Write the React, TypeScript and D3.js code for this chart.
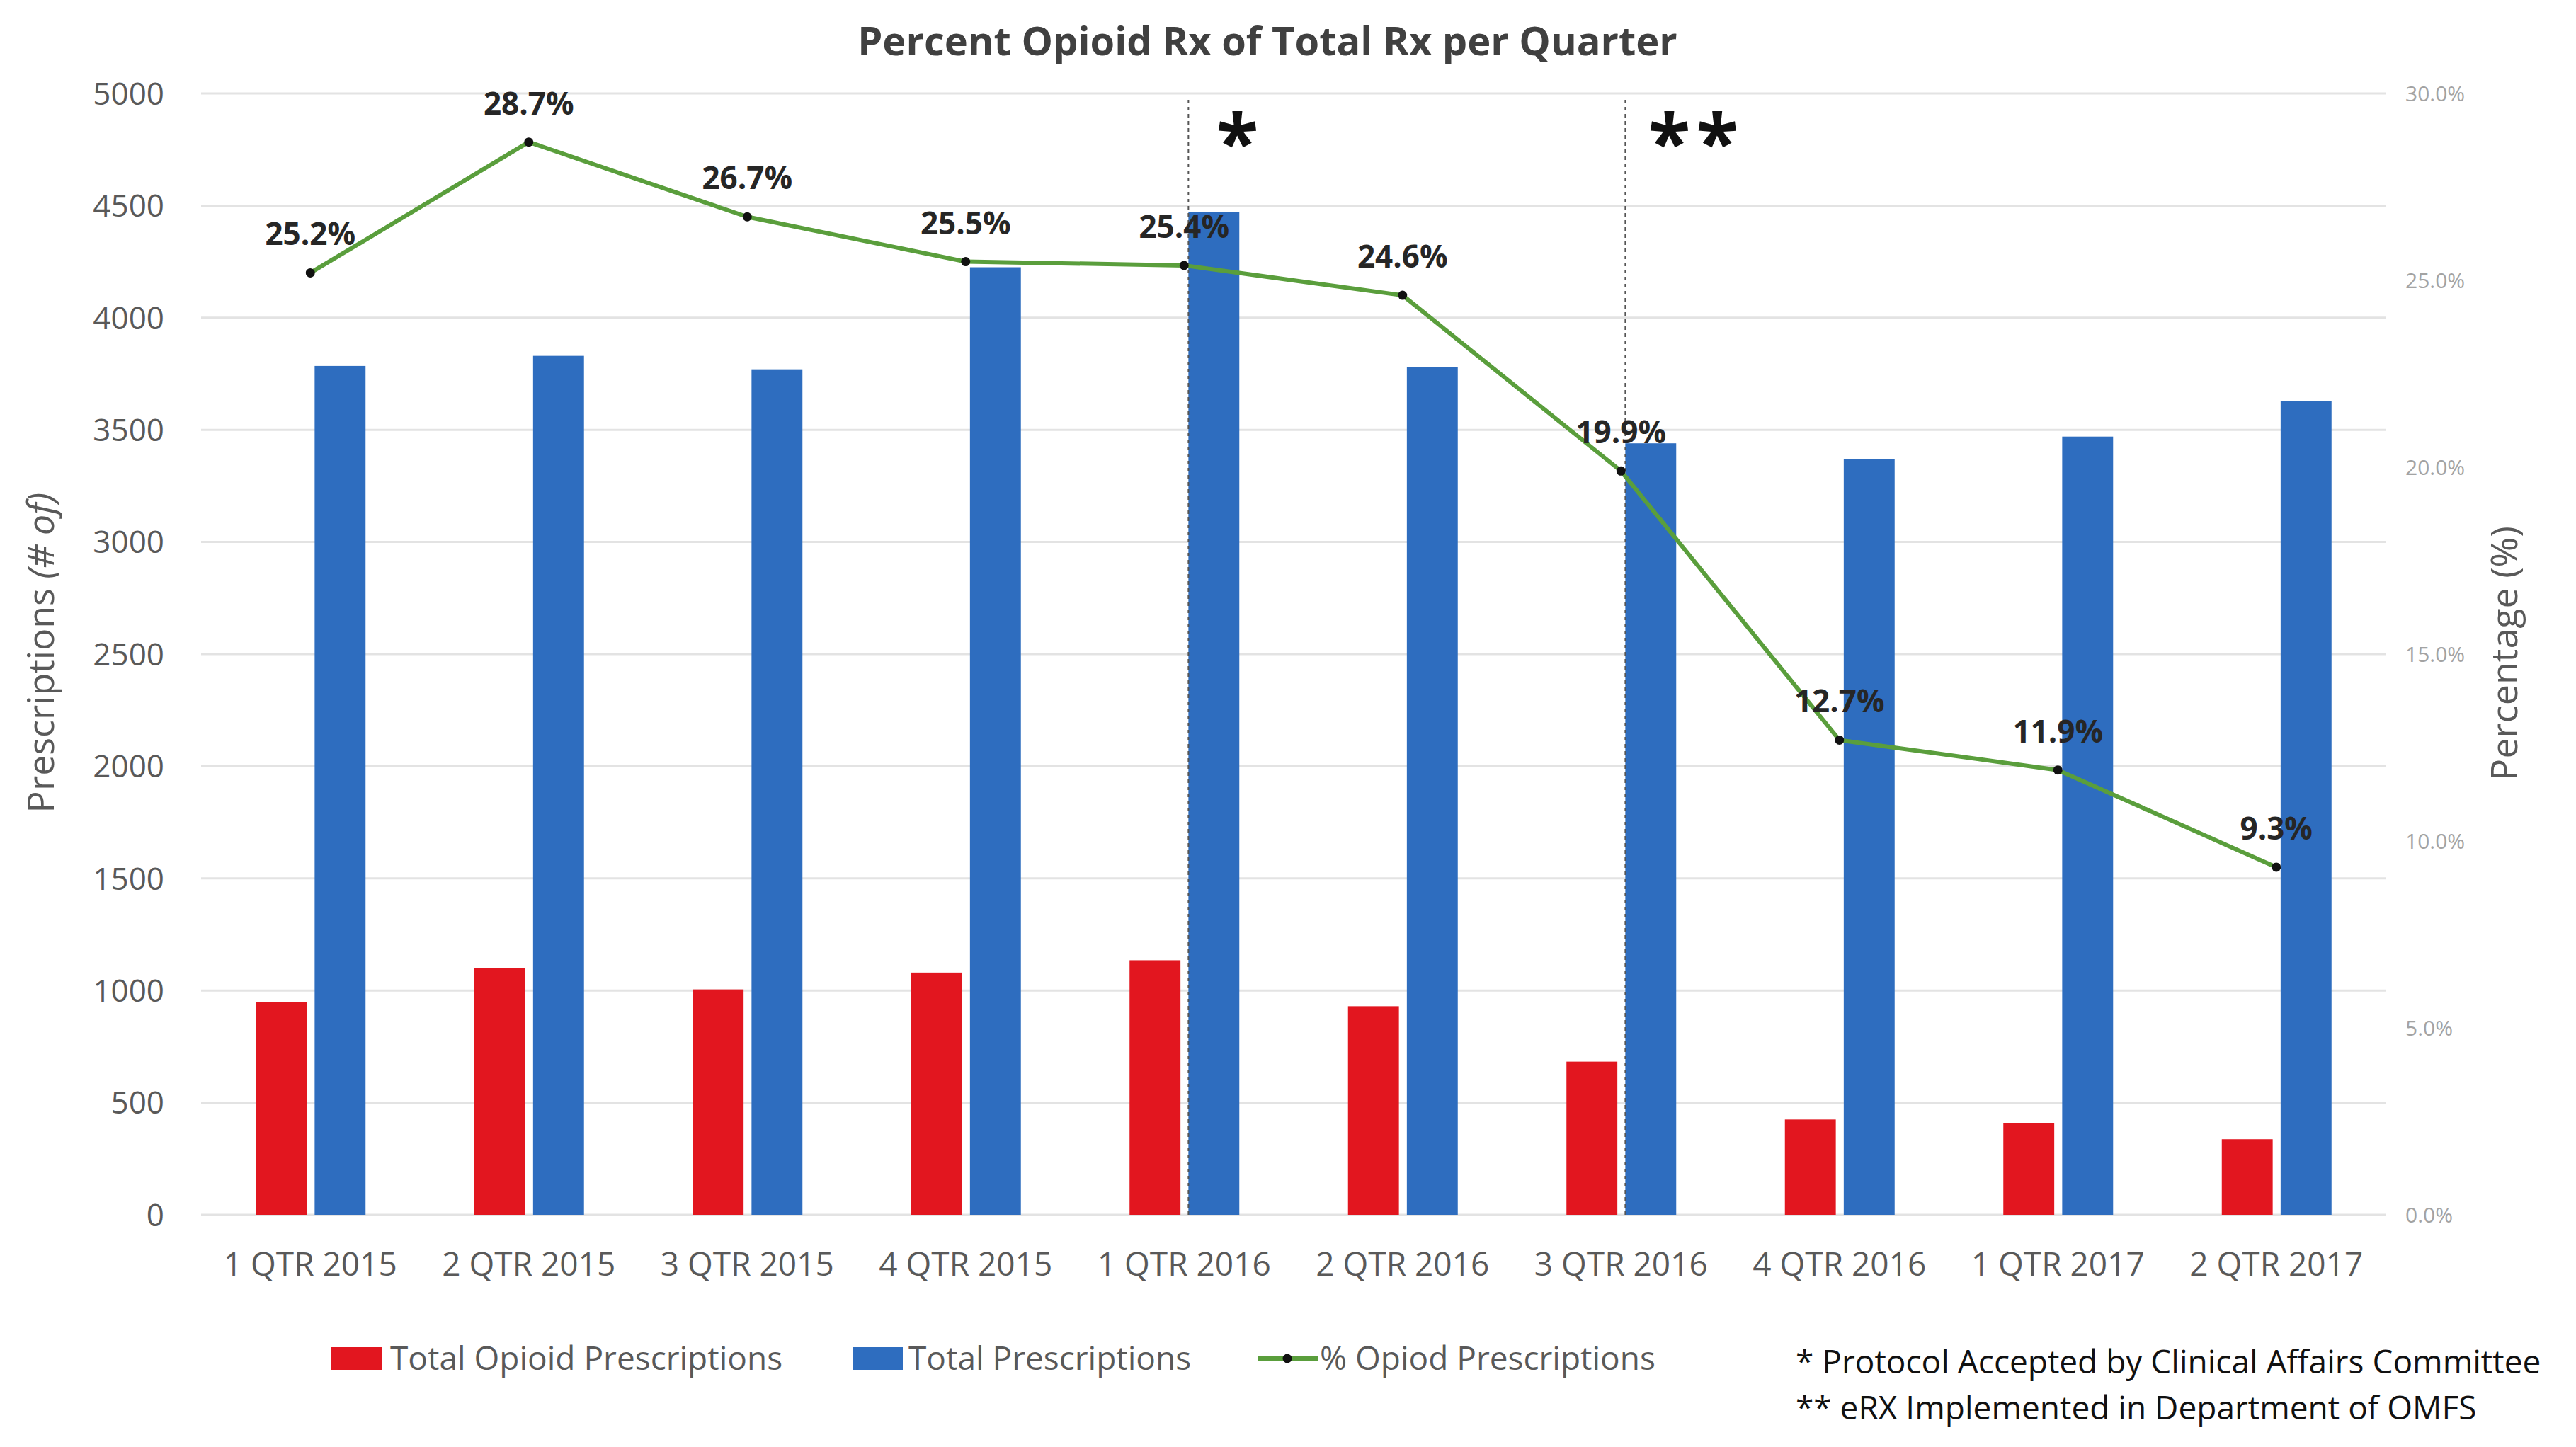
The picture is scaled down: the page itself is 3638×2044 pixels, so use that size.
import React from 'react';
import * as d3 from 'd3';

const quarters = ['1 QTR 2015', '2 QTR 2015', '3 QTR 2015', '4 QTR 2015', '1 QTR 2016',
  '2 QTR 2016', '3 QTR 2016', '4 QTR 2016', '1 QTR 2017', '2 QTR 2017'];
const opioidRx = [950, 1100, 1005, 1080, 1135, 930, 683, 425, 410, 337];
const totalRx = [3785, 3830, 3770, 4225, 4470, 3780, 3440, 3370, 3470, 3630];
const opioidPct = [25.2, 28.7, 26.7, 25.5, 25.4, 24.6, 19.9, 12.7, 11.9, 9.3];
const leftTicks = d3.range(0, 5001, 500);
const rightTicks = d3.range(0, 31, 5);
const markers = [
  { quarter: '1 QTR 2016', text: '*' },
  { quarter: '3 QTR 2016', text: '**' },
];
const footnotes = ['* Protocol Accepted by Clinical Affairs Committee', '** eRX Implemented in Department of OMFS'];

const W = 3638;
const H = 2044;
const FONT = "'Open Sans', 'Noto Sans', sans-serif";
const RED = '#e2161f';
const BLUE = '#2e6dbf';
const GREEN = '#5a9e3c';
const GREY = '#595959';

export default function App() {
  const x = d3.scaleBand<string>().domain(quarters).range([284, 3369]);
  const bw = x.bandwidth();
  const x1 = d3.scaleBand<string>().domain(['opioid', 'total'])
    .range([bw / 2 - 77, bw / 2 + 78]).paddingInner(0.135);
  const y = d3.scaleLinear().domain([0, 5000]).range([1716, 132]);
  const yp = d3.scaleLinear().domain([0, 30]).range([1716, 132]);
  const cx = (q: string) => (x(q) ?? 0) + bw / 2;

  const line = d3.line<number>()
    .x((_, i) => cx(quarters[i]))
    .y(d => yp(d));

  return (
    <svg width={W} height={H} style={{ position: 'absolute', left: 0, top: 0, background: '#fff' }}
      fontFamily={FONT}>
      <rect width={W} height={H} fill="#fff" />
      <text x={1790} y={78} textAnchor="middle" fontSize={56} fontWeight={700} fill="#404040">
        Percent Opioid Rx of Total Rx per Quarter
      </text>

      {/* gridlines + left axis */}
      {leftTicks.map(t => (
        <g key={t}>
          <line x1={284} x2={3369} y1={y(t)} y2={y(t)} stroke="#e3e3e3" strokeWidth={3} />
          <text x={232} y={y(t)} dy="0.36em" textAnchor="end" fontSize={44} fill={GREY}>{t}</text>
        </g>
      ))}
      {rightTicks.map(t => (
        <text key={t} x={3397} y={yp(t)} dy="0.36em" fontSize={30} fill="#a3a3a3">
          {d3.format('.1f')(t)}%
        </text>
      ))}

      {/* bars */}
      {quarters.map((q, i) => (
        <g key={q} transform={`translate(${x(q)},0)`}>
          <rect x={x1('opioid')} y={y(opioidRx[i])} width={x1.bandwidth()} height={y(0) - y(opioidRx[i])} fill={RED} />
          <rect x={x1('total')} y={y(totalRx[i])} width={x1.bandwidth()} height={y(0) - y(totalRx[i])} fill={BLUE} />
        </g>
      ))}

      {/* event markers */}
      {markers.map(m => {
        const lx = (x(m.quarter) ?? 0) + (x1('total') ?? 0);
        return (
          <g key={m.quarter}>
            <line x1={lx} x2={lx} y1={141} y2={y(0)} stroke="#555" strokeWidth={2} strokeDasharray="5,5" />
            <text x={lx + (m.text.length === 1 ? 69 : 100)} y={240} textAnchor="middle" fontSize={110}
              fontWeight={700} fill="#111" letterSpacing={m.text.length > 1 ? 8 : 0}>{m.text}</text>
          </g>
        );
      })}

      {/* percentage line */}
      <path d={line(opioidPct) ?? ''} fill="none" stroke={GREEN} strokeWidth={6} strokeLinejoin="round" />
      {opioidPct.map((p, i) => (
        <g key={i}>
          <circle cx={cx(quarters[i])} cy={yp(p)} r={6.5} fill="#111" />
          <text x={cx(quarters[i])} y={yp(p) - 39} textAnchor="middle" fontSize={44} fontWeight={700} fill="#262626">
            {p.toFixed(1)}%
          </text>
        </g>
      ))}

      {/* x labels */}
      {quarters.map(q => (
        <text key={q} x={cx(q)} y={1802} textAnchor="middle" fontSize={46} fill={GREY}>{q}</text>
      ))}

      {/* axis titles */}
      <text transform="translate(76,922) rotate(-90)" textAnchor="middle" fontSize={52} fill={GREY}>
        Prescriptions <tspan fontStyle="italic">(# of)</tspan>
      </text>
      <text transform="translate(3555,923) rotate(-90)" textAnchor="middle" fontSize={52} fill={GREY}>
        Percentage (%)
      </text>

      {/* legend */}
      <rect x={467} y={1903} width={73} height={32} fill={RED} />
      <text x={551} y={1935} fontSize={46} fill={GREY}>Total Opioid Prescriptions</text>
      <rect x={1204} y={1903} width={71} height={32} fill={BLUE} />
      <text x={1283} y={1935} fontSize={46} fill={GREY}>Total Prescriptions</text>
      <line x1={1776} x2={1861} y1={1919} y2={1919} stroke={GREEN} strokeWidth={6} />
      <circle cx={1818} cy={1919} r={6.5} fill="#111" />
      <text x={1864} y={1935} fontSize={46} fill={GREY}>% Opiod Prescriptions</text>

      {/* footnotes */}
      {footnotes.map((f, i) => (
        <text key={f} x={2536} y={1940 + i * 65} fontSize={46} fill="#111">{f}</text>
      ))}
    </svg>
  );
}
